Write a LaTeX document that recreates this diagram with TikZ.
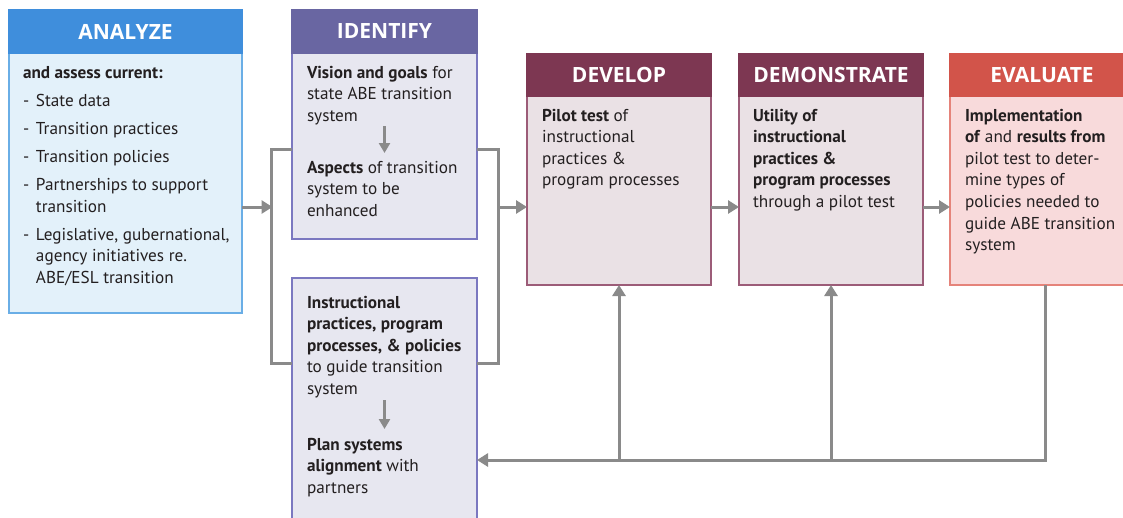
\documentclass[tikz,border=0pt]{standalone}
\usepackage{fontspec}
\setmainfont{PT Sans}
\newfontfamily\hdrfam{Open Sans}
\usetikzlibrary{arrows.meta}
\definecolor{anH}{HTML}{3F8EDC}
\definecolor{anF}{HTML}{E3F1FA}
\definecolor{anB}{HTML}{6AAEE6}
\definecolor{idH}{HTML}{6966A2}
\definecolor{idF}{HTML}{E7E7F0}
\definecolor{idB}{HTML}{7B78C0}
\definecolor{dvH}{HTML}{7D3752}
\definecolor{dvF}{HTML}{EAE1E5}
\definecolor{dvB}{HTML}{9C5C78}
\definecolor{evH}{HTML}{D2544A}
\definecolor{evF}{HTML}{F8DADB}
\definecolor{evB}{HTML}{E5837A}
\definecolor{arrgray}{HTML}{8A8A8A}
\definecolor{txt}{HTML}{231F20}
\newcommand{\fl}{\rule{0pt}{15pt}}
\newcommand{\ind}{\hspace*{13pt}}
\newcommand{\dsh}{\makebox[13pt][l]{-}}
\begin{document}
\begin{tikzpicture}[x=1pt,y=-1pt,
  box/.style={line width=1.5pt, anchor=north west, inner sep=0pt, outer sep=0pt},
  hdr/.style={line width=1.5pt, anchor=north west, inner sep=0pt, outer sep=0pt, text=white, font=\hdrfam\fontsize{21}{24}\selectfont\bfseries},
  body/.style={anchor=north west, inner sep=0pt, outer sep=0pt, align=left, text=txt, font=\fontsize{17.2}{21.6}\selectfont},
  cline/.style={draw=arrgray, line width=3pt},
  arr/.style={cline, -{Triangle[length=11pt,width=13pt]}},
  sarr/.style={draw=arrgray, line width=2.5pt, -{Triangle[length=10pt,width=11pt]}}]
\useasboundingbox (0,0) rectangle (1123,517);
\clip (0,0) rectangle (1123,517);
% ANALYZE
\node[box, draw=anB, fill=anF, minimum width=233pt, minimum height=303pt] (an) at (9,10) {};
\node[hdr, draw=anH, fill=anH, minimum width=233pt, minimum height=43pt] (anh) at (9,10) {ANALYZE};
\node[body] (ant) at (23,63) {\fl\textbf{and assess current:}\\[6.5pt]
\dsh State data\\[6.5pt]
\dsh Transition practices\\[6.5pt]
\dsh Transition policies\\[6.5pt]
\dsh Partnerships to support\\
\ind transition\\[6.5pt]
\dsh Legislative, gubernational,\\
\ind agency initiatives re.\\
\ind ABE/ESL transition};
% IDENTIFY top
\node[box, draw=idB, fill=idF, minimum width=185pt, minimum height=229pt] (idt) at (292,10) {};
\node[hdr, draw=idH, fill=idH, minimum width=185pt, minimum height=43pt] (idh) at (292,10) {IDENTIFY};
\node[body] (vis) at (307,63) {\fl\textbf{Vision and goals} for\\state ABE transition\\system};
\node[body] (asp) at (307,158) {\fl\textbf{Aspects} of transition\\system to be\\enhanced};
% IDENTIFY bottom
\node[box, draw=idB, fill=idF, minimum width=185pt, minimum height=250pt] (idb) at (292,278) {};
\node[body] (ins) at (307,293) {\fl\textbf{Instructional}\\\textbf{practices, program}\\\textbf{processes, \& policies}\\to guide transition\\system};
\node[body] (pla) at (307,435) {\fl\textbf{Plan systems}\\\textbf{alignment} with\\partners};
% DEVELOP
\node[box, draw=dvB, fill=dvF, minimum width=184pt, minimum height=231pt] (dev) at (527,54) {};
\node[hdr, draw=dvH, fill=dvH, minimum width=184pt, minimum height=42pt] (devh) at (527,54) {DEVELOP};
\node[body] (devt) at (542,106) {\fl\textbf{Pilot test} of\\instructional\\practices \&\\program processes};
% DEMONSTRATE
\node[box, draw=dvB, fill=dvF, minimum width=184pt, minimum height=231pt] (dem) at (739,54) {};
\node[hdr, draw=dvH, fill=dvH, minimum width=184pt, minimum height=42pt] (demh) at (739,54) {DEMONSTRATE};
\node[body] (demt) at (753,106) {\fl\textbf{Utility of}\\\textbf{instructional}\\\textbf{practices \&}\\\textbf{program processes}\\through a pilot test};
% EVALUATE
\node[box, draw=evB, fill=evF, minimum width=184pt, minimum height=231pt] (ev) at (950,54) {};
\node[hdr, draw=evH, fill=evH, minimum width=184pt, minimum height=42pt] (evh) at (950,54) {EVALUATE};
\node[body] (evt) at (965,106) {\fl\textbf{Implementation}\\\textbf{of} and \textbf{results from}\\pilot test to deter-\\mine types of\\policies needed to\\guide ABE transition\\system};
% internal arrows
\draw[sarr, shorten >=5pt] (idt.center |- 0,126) -- (idt.center |- asp.north);
\draw[sarr, shorten >=6pt] (idt.center |- 0,400) -- (idt.center |- pla.north);
% brackets
\coordinate (lt) at (271,149);
\coordinate (lm) at (271,207);
\coordinate (lb) at (271,363);
\coordinate (rt) at (498,149);
\coordinate (rm) at (498,207);
\coordinate (rb) at (498,363);
\draw[cline] (idt.west |- lt) -- (lt) -- (lb) -- (idb.west |- lb);
\draw[cline] (idt.east |- rt) -- (rt) -- (rb) -- (idb.east |- rb);
\draw[arr] (an.east |- lm) -- ([xshift=1.5pt]lm);
\draw[arr] (rm) -- (dev.west |- rm);
\draw[arr] (dev.east |- rm) -- (dem.west |- rm);
\draw[arr] (dem.east |- rm) -- (ev.west |- rm);
% feedback
\coordinate (fb) at (1045,460);
\draw[arr] (ev.south -| fb) -- (fb) -- (idb.east |- fb);
\draw[arr] (dev.south |- fb) -- (dev.south);
\draw[arr] (dem.south |- fb) -- (dem.south);
\end{tikzpicture}
\end{document}
